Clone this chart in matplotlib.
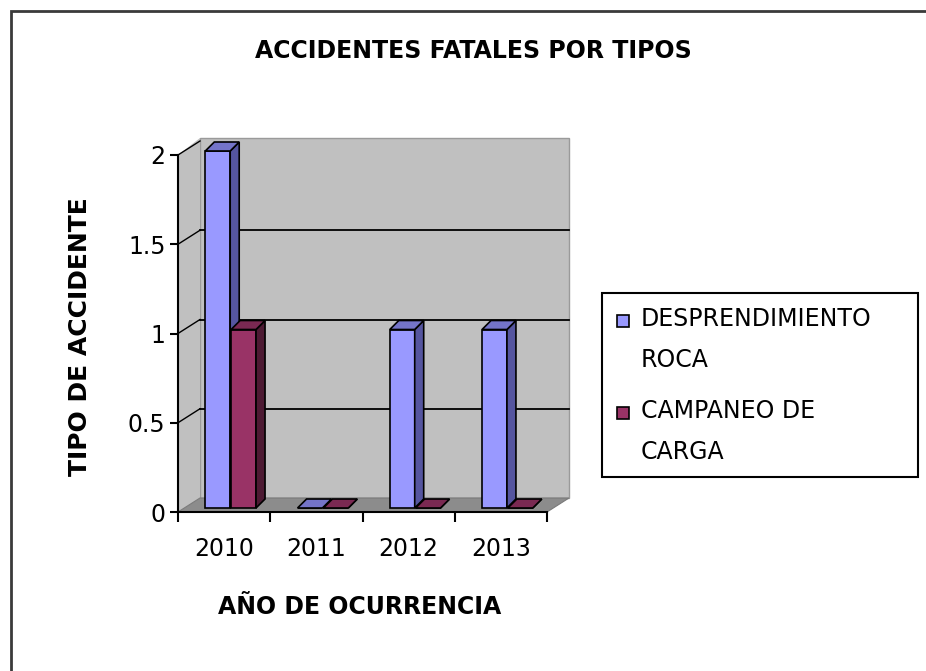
import matplotlib
matplotlib.use("Agg")
import matplotlib.pyplot as plt
from matplotlib.patches import Polygon, Rectangle

# datos del grafico
years = ['2010', '2011', '2012', '2013']
desprendimiento = [2, 0, 1, 1]
campaneo = [1, 0, 0, 0]
yticks = [0, 0.5, 1, 1.5, 2]
ytick_labels = ['0', '0.5', '1', '1.5', '2']
series_names = ['DESPRENDIMIENTO\nROCA', 'CAMPANEO DE\nCARGA']

plt.rcParams['font.family'] = ['DejaVu Sans']

W, H = 926, 671
fig = plt.figure(figsize=(W / 100, H / 100), dpi=100)


def fx(px):
    return px / W


def fy(py):
    return 1 - py / H


# marco exterior (solo se ven borde izquierdo y superior)
fig.add_artist(Rectangle((fx(11), fy(720)), 1.2, fy(11) - fy(720), transform=fig.transFigure,
                         fill=False, edgecolor='#3a3a3a', linewidth=2))

ax = fig.add_axes([fx(178), fy(512), fx(547) - fx(178), fy(155) - fy(512)])
ax.set_xlim(-0.5, 3.5)
ax.set_ylim(0, 2)
ax.patch.set_visible(False)

ux = 4 / (547 - 178)
uy = 2 / (512 - 155)


def d(px, py):
    return px * ux, py * uy


wdx, wdy = d(22, 14)   # profundidad de paredes
bfx, bfy = d(7, 4)     # cara frontal de barras
sdx, sdy = d(9, 9)     # profundidad de barras
bw = 0.27

'''paredes y piso'''
ax.add_patch(Rectangle((-0.5 + wdx, wdy), 4, 2 + d(0, 3)[1], facecolor='#c0c0c0',
                       edgecolor='#9a9a9a', linewidth=1, zorder=0, clip_on=False))
ax.add_patch(Polygon([(-0.5, 0), (-0.5 + wdx, wdy), (-0.5 + wdx, 2 + wdy + d(0, 3)[1]), (-0.5, 2)],
                     facecolor='#c0c0c0', edgecolor='none', zorder=0, clip_on=False))
ax.add_patch(Polygon([(-0.5, 0), (3.5, 0), (3.5 + wdx, wdy), (-0.5 + wdx, wdy)],
                     facecolor='#8c8c8c', edgecolor='#7a7a7a', linewidth=0.8, zorder=0.5, clip_on=False))
for v in yticks[1:-1]:
    ax.plot([-0.5 + wdx, 3.5 + wdx], [v + wdy] * 2, color='black', linewidth=1.3, zorder=1, clip_on=False)
for v in yticks[1:]:
    ax.plot([-0.5, -0.5 + wdx], [v, v + wdy], color='black', linewidth=1.0, zorder=1, clip_on=False)

'''barras 3D'''
z = [3]


def bar3d(x0, h, front, side, top):
    xl = x0 + bfx
    xr = xl + bw
    y1 = h + bfy
    ax.bar(xl, h, bw, bottom=bfy, align='edge', color=front, edgecolor='black',
           linewidth=1.2, zorder=z[0], clip_on=False)
    ax.add_patch(Polygon([(xr, bfy), (xr + sdx, bfy + sdy), (xr + sdx, y1 + sdy), (xr, y1)],
                         facecolor=side, edgecolor='black', linewidth=1.2, zorder=z[0], clip_on=False))
    ax.add_patch(Polygon([(xl, y1), (xr, y1), (xr + sdx, y1 + sdy), (xl + sdx, y1 + sdy)],
                         facecolor=top, edgecolor='black', linewidth=1.2, zorder=z[0], clip_on=False))
    z[0] += 1


for i in range(len(years)):
    bar3d(i - 0.28, desprendimiento[i], '#9999ff', '#55559f', '#7474c8')
    bar3d(i, campaneo[i], '#993366', '#4d1a33', '#7a2952')

'''ejes'''
for s in ['top', 'right']:
    ax.spines[s].set_visible(False)
for s in ['left', 'bottom']:
    ax.spines[s].set_linewidth(1.5)
    ax.spines[s].set_zorder(20)
ax.set_yticks(yticks, ytick_labels)
ax.tick_params(axis='y', direction='out', length=6, width=1.5, labelsize=17, pad=3)
ax.set_xticks([-0.5, 0.5, 1.5, 2.5, 3.5], [''] * 5)
ax.tick_params(axis='x', which='major', direction='out', length=7, width=1.5)
ax.set_xticks(range(len(years)), years, minor=True)
ax.tick_params(axis='x', which='minor', length=0, labelsize=17, pad=18)

'''textos'''
fig.text(fx(473), fy(51), 'ACCIDENTES FATALES POR TIPOS', ha='center', va='center',
         fontsize=17, fontweight='bold')
fig.text(fx(360), fy(607), 'AÑO DE OCURRENCIA', ha='center', va='center',
         fontsize=17, fontweight='bold')
yl = fig.text(fx(80), fy(476), 'TIPO DE ACCIDENTE', rotation=90, rotation_mode='anchor',
              ha='left', va='center', fontsize=18, fontweight='bold')
yl.set_clip_path(Rectangle((0, 0), 1, fy(188), transform=fig.transFigure))

'''leyenda'''
fig.add_artist(Rectangle((fx(602), fy(477)), fx(918) - fx(602), fy(293) - fy(477),
                         transform=fig.transFigure, facecolor='white', edgecolor='black', linewidth=1.5))
for name, col, yc in zip(series_names, ['#9999ff', '#993366'], [321, 413]):
    fig.add_artist(Rectangle((fx(617), fy(yc + 6)), fx(629) - fx(617), fy(yc - 6) - fy(yc + 6),
                             transform=fig.transFigure, facecolor=col, edgecolor='black', linewidth=1.2))
    fig.text(fx(641), fy(yc + 18.5), name, ha='left', va='center', fontsize=17, linespacing=1.86)

plt.savefig('out.png')
